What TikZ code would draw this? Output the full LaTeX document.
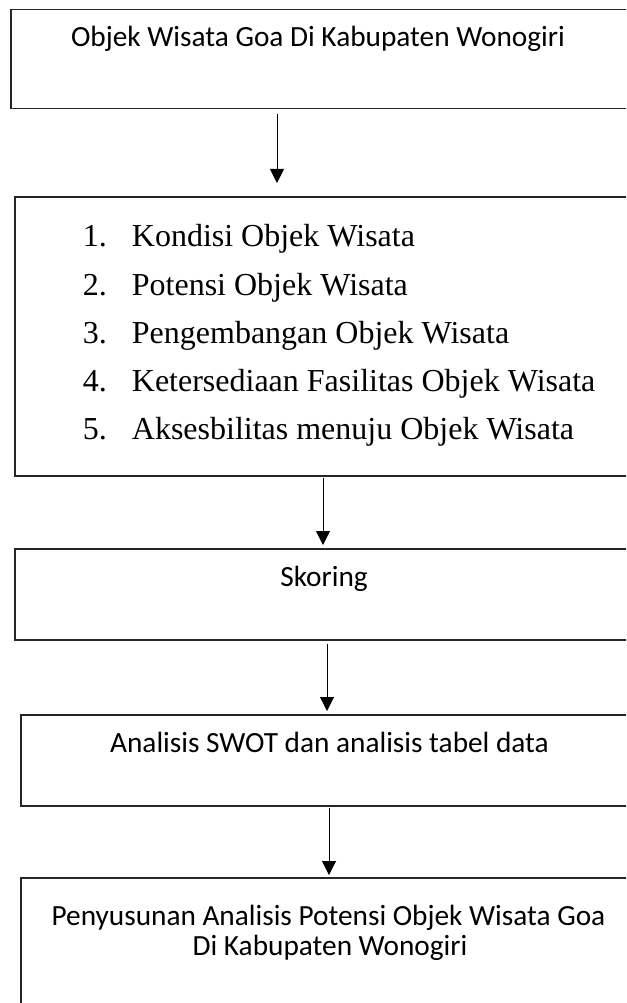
\documentclass[tikz,border=0pt]{standalone}
\usepackage{fontspec}
\setmainfont{Carlito}
\newfontfamily\tnr{Liberation Serif}
\usetikzlibrary{arrows.meta}
\begin{document}
\begin{tikzpicture}[x=1pt,y=-1pt,
  box/.style={draw=black!85,line width=1.5pt,anchor=north west,inner sep=0pt,minimum width=640pt},
  arr/.style={draw=black,line width=1pt,-{Triangle[length=14pt,width=14pt]}},
  lbl/.style={anchor=base,inner sep=0pt,font=\fontsize{29.3}{31}\selectfont},
  itm/.style={anchor=base west,inner sep=0pt,font=\tnr\fontsize{32}{38}\selectfont}]
\clip (0,0) rectangle (626,1003);
\useasboundingbox (0,0) rectangle (626,1003);
% boxes
\node[box,minimum height=99pt] (b1) at (10,9) {};
\node[box,minimum height=279pt] (b2) at (14,196) {};
\node[box,minimum height=91pt] (b3) at (14,548) {};
\node[box,minimum height=91pt] (b4) at (20,714) {};
\node[box,minimum height=160pt] (b5) at (20,877) {};
% texts
\node[lbl] (t1) at (318,47) {Objek Wisata Goa Di Kabupaten Wonogiri};
\node[itm] (n1) at (82.6,246.7) {1.};
\node[itm] (i1) at (131.7,246.7) {Kondisi Objek Wisata};
\node[itm] (n2) at (82.6,295) {2.};
\node[itm] (i2) at (131.7,295) {Potensi Objek Wisata};
\node[itm] (n3) at (82.6,343) {3.};
\node[itm] (i3) at (131.7,343) {Pengembangan Objek Wisata};
\node[itm] (n4) at (82.6,391) {4.};
\node[itm] (i4) at (131.7,391) {Ketersediaan Fasilitas Objek Wisata};
\node[itm] (n5) at (82.6,439) {5.};
\node[itm] (i5) at (131.7,439) {Aksesbilitas menuju Objek Wisata};
\node[lbl] (t3) at (324,586) {Skoring};
\node[lbl] (t4) at (329.5,752) {Analisis SWOT dan analisis tabel data};
\node[lbl] (t5a) at (328.5,925) {Penyusunan Analisis Potensi Objek Wisata Goa};
\node[lbl] (t5b) at (330,955) {Di Kabupaten Wonogiri};
% arrow columns
\coordinate (c1) at (277,0);
\coordinate (c2) at (323,0);
\coordinate (c3) at (327,0);
\coordinate (c4) at (329,0);
% connectors
\draw[arr,shorten <=5pt,shorten >=13pt] (b1.south -| c1) -- (b2.north -| c1);
\draw[arr,shorten <=1pt,shorten >=3pt] (b2.south -| c2) -- (b3.north -| c2);
\draw[arr,shorten <=3pt,shorten >=3pt] (b3.south -| c3) -- (b4.north -| c3);
\draw[arr,shorten <=1pt,shorten >=2pt] (b4.south -| c4) -- (b5.north -| c4);
\end{tikzpicture}
\end{document}
